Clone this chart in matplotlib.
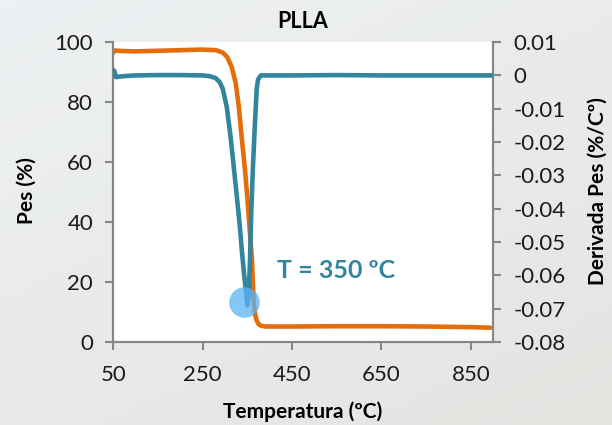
import matplotlib
matplotlib.use("Agg")
import matplotlib.pyplot as plt
import numpy as np
from matplotlib.colors import LinearSegmentedColormap

plt.rcParams['font.family'] = ['Lato', 'DejaVu Sans']

# Corba TGA (pes, eix esquerre)
temp_pes = [50, 55, 70, 100, 150, 200, 250, 280, 295, 305, 315, 324, 331, 338,
            345, 350, 355, 360, 364, 367, 370, 375, 380, 390, 450, 550, 650, 750,
            850, 893]
pes = [96.5, 97.2, 97.0, 96.9, 97.1, 97.3, 97.5, 97.3, 96.5, 95.0, 91.7, 86.3,
       78.3, 67.3, 57.0, 48.0, 38.0, 28.3, 14.0, 9.5, 7.5, 6.0, 5.5, 5.2, 5.2,
       5.3, 5.3, 5.2, 5.0, 4.8]

# Corba DTG (derivada, eix dret)
temp_dtg = [50, 53, 56, 62, 75, 100, 150, 200, 250, 265, 279, 288, 295, 304,
            313, 320, 327, 333, 338, 343, 347, 350, 353, 356, 359, 362, 366,
            369, 371, 374, 380, 450, 550, 650, 750, 850, 900]
dtg = [0.0016, 0.0012, -0.0005, -0.0004, -0.0002, 0.0, 0.0001, 0.0001, 0.0,
       -0.0002, -0.0008, -0.002, -0.004, -0.0095, -0.019, -0.028, -0.037,
       -0.045, -0.053, -0.060, -0.065, -0.069, -0.066, -0.055, -0.04, -0.029,
       -0.017, -0.009, -0.004, -0.0012, 0.0, 0.0, 0.0001, 0.0, 0.0, 0.0, 0.0]

pic_temp = 342
pic_dtg = -0.068
etiqueta = "T = 350 ºC"

x_ticks = [50, 250, 450, 650, 850]
y_ticks = [0, 20, 40, 60, 80, 100]
y2_ticks = [0.01, 0, -0.01, -0.02, -0.03, -0.04, -0.05, -0.06, -0.07, -0.08]
y2_labels = ['0.01', '0', '-0.01', '-0.02', '-0.03', '-0.04', '-0.05',
             '-0.06', '-0.07', '-0.08']

taronja = '#e46c0a'
blau = '#31859c'
gris = '#868686'

fig = plt.figure(figsize=(6.12, 4.25), dpi=100)

# fons suau en degradat
fons = fig.add_axes([0, 0, 1, 1], zorder=-10)
fons.axis('off')
gx, gy = np.meshgrid(np.linspace(0, 1, 64), np.linspace(0, 1, 64))
cmap_fons = LinearSegmentedColormap.from_list('fons', ['#eef1f3', '#e4e5e1'])
fons.imshow(0.6 * gy + 0.4 * gx, cmap=cmap_fons, aspect='auto',
            extent=[0, 1, 0, 1], origin='upper')

ax = fig.add_axes([0.185, 0.195, 0.621, 0.706])
ax.set_facecolor('white')

ax.plot(temp_pes, pes, color=taronja, lw=3.3, solid_capstyle='round', zorder=3)
ax.set_xlim(50, 900)
ax.set_ylim(0, 100)
ax.set_xticks(x_ticks)
ax.set_yticks(y_ticks)

ax2 = ax.twinx()
ax2.plot(temp_dtg, dtg, color=blau, lw=3.3, solid_capstyle='round', zorder=3)
ax2.plot([pic_temp], [pic_dtg], 'o', ms=22, color='#5bb4f5', alpha=0.75,
         markeredgewidth=0, zorder=4)
ax2.text(416, -0.0584, etiqueta, color=blau, fontsize=18, fontweight='bold',
         va='center', ha='left')
ax2.set_ylim(-0.08, 0.01)
ax2.set_yticks(y2_ticks)
ax2.set_yticklabels(y2_labels)

for a in (ax, ax2):
    a.spines['top'].set_visible(False)
    for s in ('left', 'right', 'bottom'):
        a.spines[s].set_color(gris)
        a.spines[s].set_linewidth(1.5)
    a.tick_params(colors=gris, labelcolor='#1a1a1a', labelsize=16,
                  width=1.5, length=5.5, direction='out', pad=9)
ax.tick_params(axis='x', pad=11)

# Títol i etiquetes dels eixos
fig.text(303 / 612, 1 - 22 / 425, 'PLLA', fontsize=15.5, fontweight='bold',
         ha='center', va='center')
fig.text(303 / 612, 1 - 412 / 425, 'Temperatura (ºC)', fontsize=15,
         fontweight='bold', ha='center', va='center')
fig.text(27 / 612, 1 - 191 / 425, 'Pes (%)', fontsize=15, fontweight='bold',
         ha='center', va='center', rotation=90)
fig.text(598 / 612, 1 - 191 / 425, 'Derivada Pes (%/Cº)', fontsize=15,
         fontweight='bold', ha='center', va='center', rotation=90)

fig.savefig('out.png', dpi=100)
